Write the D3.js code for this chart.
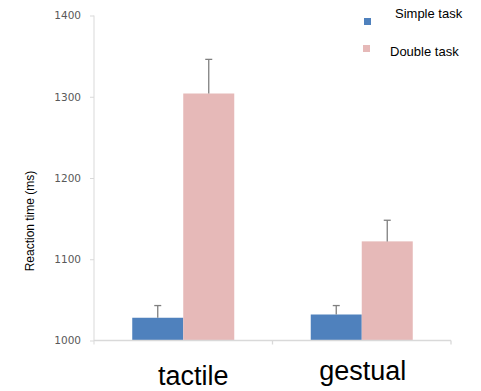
<!DOCTYPE html>
<html>
<head>
<meta charset="utf-8">
<script src="https://cdn.jsdelivr.net/npm/d3@7"></script>
<style>
  html, body { margin: 0; padding: 0; background: #fff; }
  svg { display: block; }
</style>
</head>
<body>
<svg id="chart" width="481" height="391"></svg>
<script>
"use strict";

const categories   = ['tactile', 'gestual'];
const seriesNames  = ['Simple task', 'Double task'];
const simpleValues = [1028, 1032];
const doubleValues = [1304, 1122];
const simpleErrors = [15, 11];
const doubleErrors = [42, 26];
const yTicks       = [1000, 1100, 1200, 1300, 1400];

const colors = ['#4f81bd', '#e6b9b8'];

const svg = d3.select('#chart');
const margin = { left: 94, right: 30, top: 15.5, bottom: 50.5 };
const width  = 481, height = 391;

const x = d3.scaleBand()
  .domain(categories)
  .range([margin.left, width - margin.right])
  .paddingInner(0).paddingOuter(0);

const xs = d3.scaleBand()
  .domain(seriesNames)
  .range([0, x.bandwidth()])
  .paddingInner(0).paddingOuter(0.75);

const y = d3.scaleLinear()
  .domain([1000, 1400])
  .range([height - margin.bottom, margin.top]);

// y axis
const yAxis = svg.append('g')
  .attr('transform', 'translate(' + margin.left + ',0)')
  .call(d3.axisLeft(y).tickValues(yTicks).tickSize(4).tickPadding(9).tickFormat(d3.format('d')));
yAxis.select('.domain').attr('stroke', '#d9d9d9').attr('d',
  'M0,' + y(1400) + 'V' + (y(1000) + 4));
yAxis.selectAll('.tick line').attr('stroke', '#d9d9d9');
yAxis.selectAll('.tick text')
  .attr('fill', '#595959')
  .attr('font-family', "'DejaVu Sans', sans-serif")
  .attr('font-size', '10.5px');

// bars
const rows = categories.map((c, i) => ({
  cat: c,
  vals: [
    { s: seriesNames[0], v: simpleValues[i], e: simpleErrors[i] },
    { s: seriesNames[1], v: doubleValues[i], e: doubleErrors[i] }
  ]
}));

const grp = svg.append('g').selectAll('g').data(rows).enter().append('g')
  .attr('transform', d => 'translate(' + x(d.cat) + ',0)');

grp.selectAll('rect').data(d => d.vals).enter().append('rect')
  .attr('x', d => xs(d.s))
  .attr('width', xs.bandwidth())
  .attr('y', d => y(d.v))
  .attr('height', d => y(1000) - y(d.v))
  .attr('fill', (d, i) => colors[i]);

// error bars (upper only)
const eb = grp.selectAll('g.err').data(d => d.vals).enter().append('g')
  .attr('class', 'err')
  .attr('stroke', '#7f7f7f').attr('stroke-width', 1.3);
eb.append('line')
  .attr('x1', d => xs(d.s) + xs.bandwidth() / 2).attr('x2', d => xs(d.s) + xs.bandwidth() / 2)
  .attr('y1', d => y(d.v)).attr('y2', d => y(d.v + d.e));
eb.append('line')
  .attr('x1', d => xs(d.s) + xs.bandwidth() / 2 - 3.5).attr('x2', d => xs(d.s) + xs.bandwidth() / 2 + 3.5)
  .attr('y1', d => y(d.v + d.e)).attr('y2', d => y(d.v + d.e));

// baseline + category ticks
const base = svg.append('g').attr('stroke', '#d9d9d9').attr('stroke-width', 1.3);
base.append('line')
  .attr('x1', margin.left).attr('x2', width - margin.right)
  .attr('y1', y(1000)).attr('y2', y(1000));
categories.forEach(c => {
  base.append('line')
    .attr('x1', x(c) + x.bandwidth()).attr('x2', x(c) + x.bandwidth())
    .attr('y1', y(1000)).attr('y2', y(1000) + 4);
});

// category labels
svg.append('g').selectAll('text').data(categories).enter().append('text')
  .attr('x', (d, i) => x(d) + x.bandwidth() / 2 + (i === 0 ? 10 : 1))
  .attr('y', (d, i) => i === 0 ? 385 : 380)
  .attr('text-anchor', 'middle')
  .attr('font-family', "'Liberation Sans', Arial, sans-serif")
  .attr('font-size', '27px')
  .attr('fill', '#000')
  .text(d => d);

// y label
svg.append('text')
  .attr('transform', 'translate(34,221) rotate(-90)')
  .attr('text-anchor', 'middle')
  .attr('font-family', "'Liberation Sans', Arial, sans-serif")
  .attr('font-size', '12px')
  .attr('fill', '#000')
  .text('Reaction time (ms)');

// legend
const legend = svg.append('g');
const legendItems = [
  { name: seriesNames[0], sx: 364, sy: 18, tx: 395, ty: 18 },
  { name: seriesNames[1], sx: 363, sy: 45, tx: 390, ty: 56 }
];
legendItems.forEach((d, i) => {
  legend.append('rect')
    .attr('x', d.sx).attr('y', d.sy).attr('width', 7).attr('height', 7)
    .attr('fill', colors[i]);
  legend.append('text')
    .attr('x', d.tx).attr('y', d.ty)
    .attr('font-family', "'Liberation Sans', Arial, sans-serif")
    .attr('font-size', '13px')
    .attr('fill', '#000')
    .text(d.name);
});
</script>
</body>
</html>
